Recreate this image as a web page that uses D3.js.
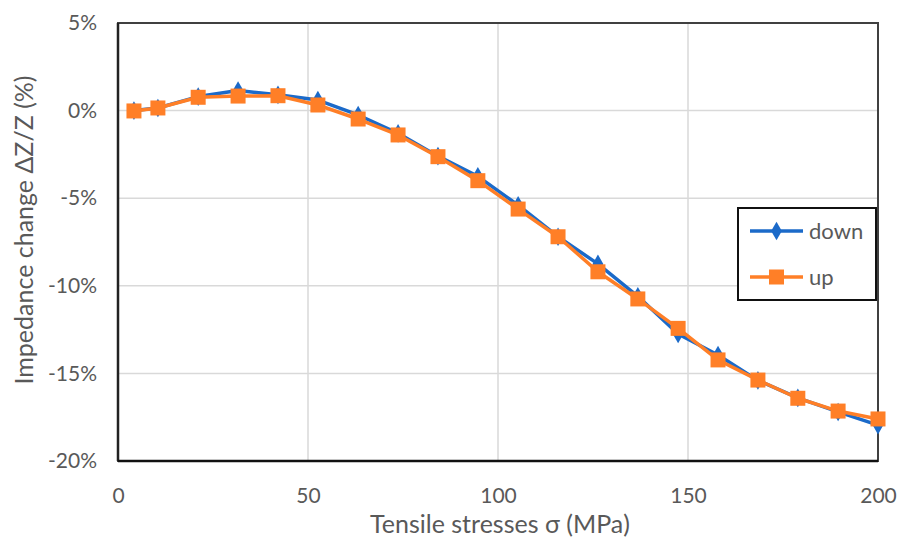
<!DOCTYPE html>
<html>
<head>
<meta charset="utf-8">
<script src="https://cdnjs.cloudflare.com/ajax/libs/d3/7.8.5/d3.min.js"></script>
<style>
  body { margin: 0; background: #fff; }
  svg text { font-family: Lato, "Open Sans", sans-serif; fill: #595959; }
</style>
</head>
<body>
<svg id="chart" width="900" height="538"></svg>
<script>
// stress values (MPa)
var stress = [4.2, 10.5, 21.1, 31.6, 42.1, 52.6, 63.2, 73.7, 84.2, 94.7,
              105.3, 115.8, 126.3, 136.8, 147.4, 157.9, 168.4, 178.9, 189.5, 200];
// impedance change (%)
var down = [0.0, 0.15, 0.8, 1.15, 0.9, 0.6, -0.25, -1.3, -2.6, -3.75,
            -5.4, -7.2, -8.75, -10.6, -12.75, -13.95, -15.4, -16.4, -17.2, -17.95];
var up   = [-0.02, 0.15, 0.76, 0.83, 0.85, 0.32, -0.48, -1.39, -2.63, -4.0,
            -5.62, -7.2, -9.2, -10.75, -12.43, -14.23, -15.38, -16.42, -17.15, -17.6];
var xTicks = [0, 50, 100, 150, 200];
var yTicks = [5, 0, -5, -10, -15, -20];
var seriesNames = ["down", "up"];

var margin = { top: 23, right: 22, bottom: 77, left: 118 },
	width  = 900 - margin.left - margin.right,
	height = 538 - margin.top - margin.bottom;

var svg = d3.select("#chart");
var g = svg.append("g")
	.attr("transform", "translate(" + margin.left + "," + margin.top + ")");

var x = d3.scaleLinear().domain([0, 200]).range([0, width]);
var y = d3.scaleLinear().domain([-20, 5]).range([height, 0]);

// gridlines
g.append("g").selectAll("line").data(xTicks).enter().append("line")
	.attr("x1", function(d){ return x(d); }).attr("x2", function(d){ return x(d); })
	.attr("y1", 0).attr("y2", height)
	.style("stroke", "#d9d9d9").style("stroke-width", 1.5);
g.append("g").selectAll("line").data(yTicks).enter().append("line")
	.attr("y1", function(d){ return y(d); }).attr("y2", function(d){ return y(d); })
	.attr("x1", 0).attr("x2", width)
	.style("stroke", "#d9d9d9").style("stroke-width", 1.5);

// plot frame
g.append("rect").attr("width", width).attr("height", height)
	.style("fill", "none").style("stroke", "#404040").style("stroke-width", 2);
g.append("line").attr("x1", 0).attr("x2", 0).attr("y1", 0).attr("y2", height)
	.style("stroke", "#222").style("stroke-width", 2.5);
g.append("line").attr("x1", 0).attr("x2", width).attr("y1", height).attr("y2", height)
	.style("stroke", "#111").style("stroke-width", 2.5);

// tick labels
var xAxis = g.append("g").attr("transform", "translate(0," + height + ")")
	.call(d3.axisBottom(x).tickValues(xTicks).tickSize(0).tickPadding(27).tickFormat(d3.format("d")));
var yAxis = g.append("g")
	.call(d3.axisLeft(y).tickValues(yTicks).tickSize(0).tickPadding(21).tickFormat(function(d){ return d + "%"; }));
[xAxis, yAxis].forEach(function(a){
	a.select(".domain").remove();
	a.selectAll("text").style("font-size", "21px").style("fill", "#595959")
		.style("font-family", "Lato, 'Open Sans', sans-serif");
});

// axis titles
g.append("text").attr("x", width / 2 + 2).attr("y", 533 - margin.top)
	.attr("text-anchor", "middle").style("font-size", "25px")
	.text("Tensile stresses σ (MPa)");
g.append("text")
	.attr("transform", "translate(" + (33 - margin.left) + "," + (230 - margin.top) + ") rotate(-90)")
	.attr("text-anchor", "middle").style("font-size", "25px")
	.text("Impedance change ΔZ/Z (%)");

var colors = { down: "#1b6ac9", up: "#ff7f27" };
var line = d3.line()
	.x(function(d){ return x(d[0]); })
	.y(function(d){ return y(d[1]); });

function drawSeries(name, vals, symbol, size) {
	var pts = stress.map(function(s, i){ return [s, vals[i]]; });
	var s = g.append("g");
	s.append("path").datum(pts).attr("d", line)
		.style("fill", "none").style("stroke", colors[name]).style("stroke-width", 3.5)
		.style("stroke-linejoin", "round");
	s.selectAll("path.m").data(pts).enter().append("path").attr("class", "m")
		.attr("d", d3.symbol().type(symbol).size(size))
		.attr("transform", function(d){ return "translate(" + x(d[0]) + "," + y(d[1]) + ")"; })
		.style("fill", colors[name]);
}
drawSeries("down", down, d3.symbolDiamond, 100);
drawSeries("up", up, d3.symbolSquare, 225);

// legend
var legend = svg.append("g").attr("transform", "translate(738,208)");
legend.append("rect").attr("width", 138).attr("height", 92)
	.style("fill", "#fff").style("stroke", "#111").style("stroke-width", 2);
seriesNames.forEach(function(name, i){
	var row = legend.append("g").attr("transform", "translate(0," + (23 + i * 46) + ")");
	row.append("line").attr("x1", 12).attr("x2", 65)
		.style("stroke", colors[name]).style("stroke-width", 3.5);
	row.append("path")
		.attr("d", d3.symbol().type(i === 0 ? d3.symbolDiamond : d3.symbolSquare).size(i === 0 ? 100 : 225))
		.attr("transform", "translate(38.5,0)")
		.style("fill", colors[name]);
	row.append("text").attr("x", 71).attr("dy", "0.35em")
		.style("font-size", "22px").text(name);
});
</script>
</body>
</html>
